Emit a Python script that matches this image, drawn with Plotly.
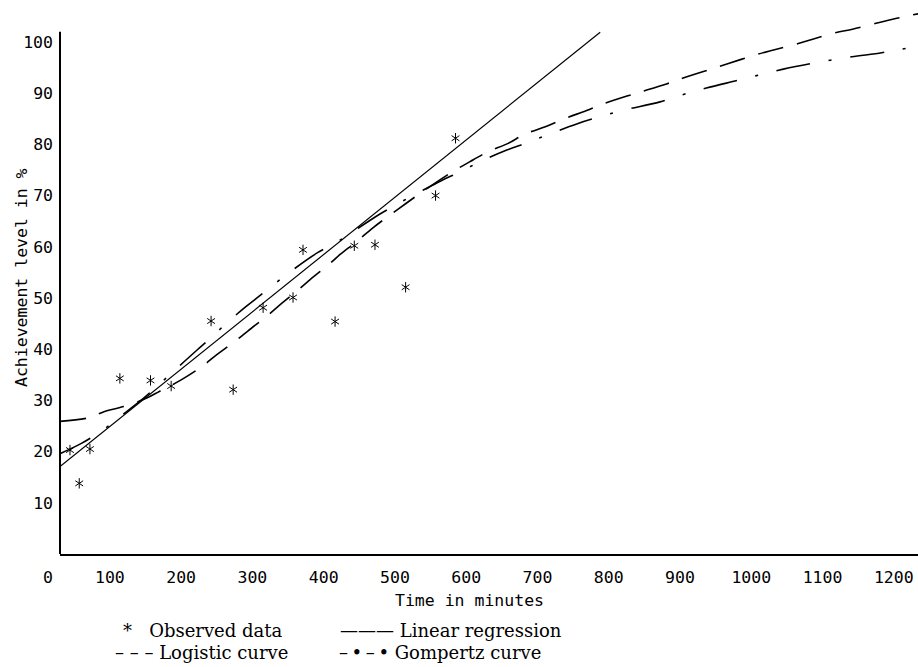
import plotly.graph_objects as go

# Observed data (time in minutes, achievement level in %)
obs_time = [44, 57, 72, 114, 157, 186, 242, 273, 315, 357, 371, 416, 443, 472, 515, 557, 585]
obs_level = [20.3, 13.8, 20.5, 34.3, 33.9, 32.8, 45.5, 32.1, 48.1, 50.1, 59.4, 45.4, 60.2, 60.4, 52.1, 70.0, 81.2]

# Linear regression (end points of the drawn line)
lin_time = [30, 788]
lin_level = [17.1, 101.9]

# Logistic curve
log_time = [30, 70, 90, 119, 151, 170, 200, 231, 247, 278, 294, 320, 339, 366, 381, 411, 423, 446,
            470, 505, 540, 580, 610, 631, 659, 682, 712, 739, 769, 790, 827, 846, 881, 901, 939,
            968, 1004, 1030, 1066, 1085, 1118, 1142, 1171, 1191, 1220, 1234]
log_level = [25.9, 26.6, 27.7, 28.8, 30.4, 31.8, 34.0, 36.8, 38.6, 41.8, 43.6, 46.4, 48.7, 51.8, 53.6, 57.0, 58.5, 61.0,
             63.8, 67.4, 70.9, 74.6, 77.0, 78.6, 80.2, 82.0, 83.5, 85.1, 86.6, 87.8, 89.5, 90.3, 91.8, 92.8, 94.5,
             95.8, 97.4, 98.4, 99.7, 100.5, 101.8, 102.5, 103.5, 104.2, 105.1, 105.5]

# Gompertz curve
gom_time = [30, 60, 90, 114, 140, 165, 191, 222, 240, 263, 290, 310, 329, 350, 392, 416, 434, 479, 508,
            540, 565, 594, 619, 657, 685, 713, 755, 785, 818, 872, 906, 937, 984, 1015, 1045, 1092, 1114,
            1141, 1183, 1203, 1234]
gom_level = [19.6, 21.6, 24.2, 26.8, 29.6, 32.6, 35.9, 39.8, 42.0, 45.0, 48.2, 50.4, 52.5, 54.8, 58.9, 60.7, 62.3, 66.4, 68.7,
             71.1, 72.9, 74.8, 76.6, 78.9, 80.3, 81.8, 84.0, 85.3, 86.6, 88.3, 89.8, 91.0, 92.6, 93.7, 94.7, 96.0, 96.5,
             97.1, 97.9, 98.4, 99.1]

x_ticks = [100, 200, 300, 400, 500, 600, 700, 800, 900, 1000, 1100, 1200]
y_ticks = [10, 20, 30, 40, 50, 60, 70, 80, 90, 100]

MONO = "DejaVu Sans Mono"
SERIF = "DejaVu Serif"

fig = go.Figure()

fig.add_trace(go.Scatter(x=lin_time, y=lin_level, mode="lines",
                         line=dict(color="black", width=1.2), name="Linear regression"))
fig.add_trace(go.Scatter(x=log_time, y=log_level, mode="lines", line_shape="spline",
                         line=dict(color="black", width=1.6, dash="26px,14px"), name="Logistic curve"))
fig.add_trace(go.Scatter(x=gom_time, y=gom_level, mode="lines", line_shape="spline",
                         line=dict(color="black", width=1.6, dash="34px,19px,3px,19px"), name="Gompertz curve"))
for sym in ["y-up-open", "y-down-open"]:
    fig.add_trace(go.Scatter(x=obs_time, y=obs_level, mode="markers", name="Observed data",
                             marker=dict(symbol=sym, size=6.5, color="black",
                                         line=dict(color="black", width=1.0))))

W, H = 918, 667
ML, MB = 60, 113
PW, PH = W - ML, H - MB

def px_x(p):
    return (p - ML) / PW

def px_y(p):
    return (H - MB - p) / PH

fig.update_layout(
    width=W, height=H,
    margin=dict(l=ML, r=0, t=0, b=MB),
    paper_bgcolor="white", plot_bgcolor="white",
    showlegend=False,
    font=dict(family=MONO, size=16, color="black"),
    xaxis=dict(range=[30, 1234], tickvals=x_ticks, ticktext=[str(v) for v in x_ticks],
               showgrid=False, zeroline=False, showline=True, linecolor="black", linewidth=1.6,
               ticks="", ticklabelstandoff=7, tickfont=dict(family=MONO, size=16.5, color="black")),
    yaxis=dict(range=[0, 108.2], tickvals=y_ticks, ticktext=[str(v) for v in y_ticks],
               showgrid=False, zeroline=False, showline=False,
               ticks="", ticklabelstandoff=6, tickfont=dict(family=MONO, size=16.5, color="black")),
    shapes=[dict(type="line", xref="paper", yref="y", x0=0, x1=0, y0=0, y1=102,
                 line=dict(color="black", width=2))],
)

NB = "\u00a0"
ann = []
ann.append(dict(text="0", xref="paper", yref="paper", x=px_x(48), y=px_y(577),
                showarrow=False, font=dict(family=MONO, size=16.5), xanchor="center", yanchor="middle"))
ann.append(dict(text="Time in minutes", xref="paper", yref="paper", x=px_x(469), y=px_y(600),
                showarrow=False, font=dict(family=MONO, size=16.5), xanchor="center", yanchor="middle"))
ann.append(dict(text="Achievement level in %", xref="paper", yref="paper", x=px_x(21), y=px_y(278),
                textangle=-90, showarrow=False, font=dict(family=MONO, size=16.5),
                xanchor="center", yanchor="middle"))
legend_rows = [
    ("*" + NB * 2 + " Observed data", 284, 630, "right"),
    ("–" + NB + "–" + NB + "–" + NB + "Logistic curve", 290, 652, "right"),
    ("———" + NB + "Linear regression", 338, 630, "left"),
    ("–\u2009•\u2009–\u2009•" + NB + "Gompertz curve", 337, 652, "left"),
]
for txt, xp, yp, anc in legend_rows:
    ann.append(dict(text=txt, xref="paper", yref="paper", x=px_x(xp), y=px_y(yp),
                    showarrow=False, font=dict(family=SERIF, size=18, color="black"),
                    xanchor=anc, yanchor="middle"))
fig.update_layout(annotations=ann)

fig.write_html("out.html", config={"displayModeBar": False},
               post_script="document.body.style.margin='0';document.body.style.overflow='hidden';")
